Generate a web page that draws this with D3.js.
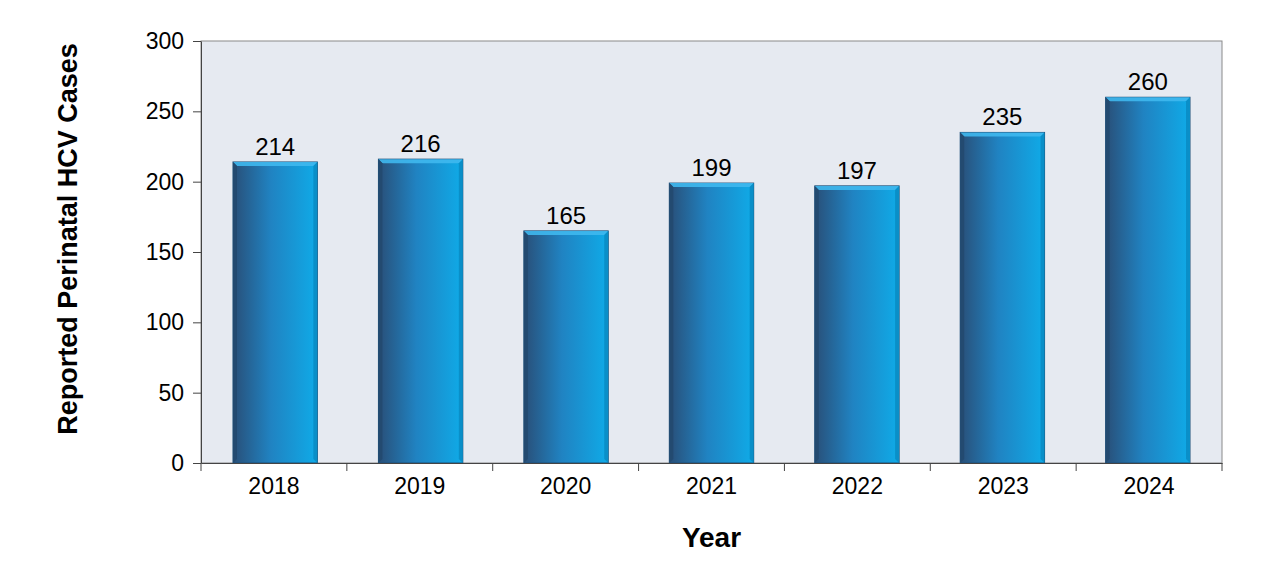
<!DOCTYPE html>
<html>
<head>
<meta charset="utf-8">
<script src="https://cdn.jsdelivr.net/npm/d3@7"></script>
<style>
  body { margin: 0; background: #fff; }
  text { font-family: "Liberation Sans", Arial, sans-serif; }
</style>
</head>
<body>
<script>
const years = ["2018", "2019", "2020", "2021", "2022", "2023", "2024"];
const cases = [214, 216, 165, 199, 197, 235, 260];
const yTicks = [0, 50, 100, 150, 200, 250, 300];

const width = 1280;
const height = 572;
const margin = { left: 201, right: 58, top: 41, bottom: 109 };
const chartwidth = width - margin.left - margin.right;
const chartheight = height - margin.top - margin.bottom;

const svg = d3.select("body").append("svg")
    .attr("width", width)
    .attr("height", height);

const defs = svg.append("defs");
const grad = defs.append("linearGradient")
    .attr("id", "barGrad")
    .attr("x1", "0%").attr("x2", "100%").attr("y1", "0%").attr("y2", "0%");
grad.append("stop").attr("offset", "0%").attr("stop-color", "#294f78");
grad.append("stop").attr("offset", "45%").attr("stop-color", "#2083c2");
grad.append("stop").attr("offset", "100%").attr("stop-color", "#0fabe8");

const g = svg.append("g")
    .attr("transform", `translate(${[margin.left, margin.top]})`);

const x = d3.scaleBand().domain(years).range([0, chartwidth]).paddingInner(0.42).paddingOuter(0.22);
const xBand = d3.scaleBand().domain(years).range([0, chartwidth]);
const y = d3.scaleLinear().domain([0, 300]).range([chartheight, 0]);

g.append("rect")
    .attr("width", chartwidth)
    .attr("height", chartheight)
    .attr("fill", "#e6eaf1")
    .attr("stroke", "#8a8a8a")
    .attr("stroke-width", 1);

// bars
const bars = g.selectAll(".bar")
    .data(years.map((d, i) => ({ year: d, value: cases[i] })))
    .join("g")
    .attr("class", "bar");

bars.append("rect")
    .attr("x", d => x(d.year))
    .attr("y", d => y(d.value))
    .attr("width", x.bandwidth())
    .attr("height", d => chartheight - y(d.value))
    .attr("fill", "url(#barGrad)")
    .attr("stroke", "#1d4f78")
    .attr("stroke-width", 1);

// top bevel
bars.append("path")
    .attr("d", d => {
        const x0 = x(d.year), x1 = x0 + x.bandwidth(), y0 = y(d.value), b = 4;
        return `M${x0},${y0}L${x1},${y0}L${x1 - b},${y0 + b}L${x0 + b},${y0 + b}Z`;
    })
    .attr("fill", "#3fb8ee")
    .attr("opacity", 0.9);

// right bevel
bars.append("path")
    .attr("d", d => {
        const x1 = x(d.year) + x.bandwidth(), y0 = y(d.value), b = 4;
        return `M${x1},${y0}L${x1},${chartheight}L${x1 - b},${chartheight - b}L${x1 - b},${y0 + b}Z`;
    })
    .attr("fill", "#0a8fc8");

// left bevel
bars.append("path")
    .attr("d", d => {
        const x0 = x(d.year), y0 = y(d.value), b = 4;
        return `M${x0},${y0}L${x0 + b},${y0 + b}L${x0 + b},${chartheight - b}L${x0},${chartheight}Z`;
    })
    .attr("fill", "#234a70");

bars.append("text")
    .attr("x", d => x(d.year) + x.bandwidth() / 2)
    .attr("y", d => y(d.value) - 7)
    .attr("text-anchor", "middle")
    .attr("font-size", 24)
    .attr("fill", "#000")
    .text(d => d.value);

// y axis
const yAxis = g.append("g")
    .call(d3.axisLeft(y).tickValues(yTicks).tickSize(8).tickSizeOuter(0));
yAxis.select(".domain").attr("stroke", "#444");
yAxis.selectAll(".tick line").attr("stroke", "#444");
yAxis.selectAll(".tick text")
    .attr("font-size", 23)
    .attr("fill", "#000")
    .attr("x", -17)
    .attr("font-family", "Liberation Sans, Arial, sans-serif");

// x axis
const xAxis = g.append("g")
    .attr("transform", `translate(0, ${chartheight})`)
    .call(d3.axisBottom(xBand).tickSize(0).tickSizeOuter(0));
xAxis.select(".domain").attr("stroke", "#444");
xAxis.selectAll(".tick text")
    .attr("font-size", 23)
    .attr("fill", "#000")
    .attr("dy", "1.2em")
    .attr("font-family", "Liberation Sans, Arial, sans-serif");

g.selectAll(".xsep")
    .data(years.concat(["end"]))
    .join("line")
    .attr("class", "xsep")
    .attr("x1", (d, i) => i * xBand.bandwidth())
    .attr("x2", (d, i) => i * xBand.bandwidth())
    .attr("y1", chartheight)
    .attr("y2", chartheight + 8)
    .attr("stroke", "#444");

// axis titles
svg.append("text")
    .attr("transform", `translate(77, ${margin.top + chartheight / 2 - 13}) rotate(-90)`)
    .attr("text-anchor", "middle")
    .attr("font-size", 27)
    .attr("font-weight", "bold")
    .text("Reported Perinatal HCV Cases");

svg.append("text")
    .attr("x", margin.left + chartwidth / 2)
    .attr("y", 547)
    .attr("text-anchor", "middle")
    .attr("font-size", 28)
    .attr("font-weight", "bold")
    .text("Year");
</script>
</body>
</html>
